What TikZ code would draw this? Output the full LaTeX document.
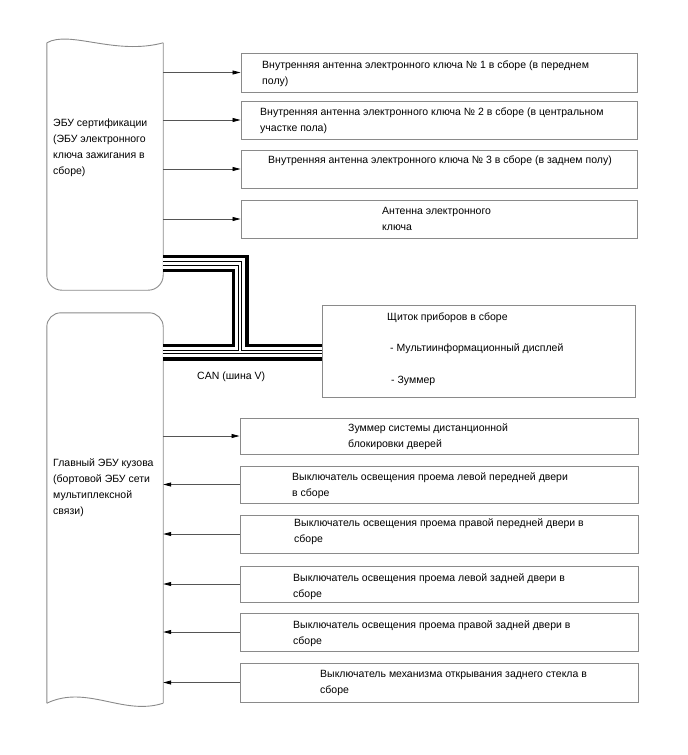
\documentclass[tikz,border=0pt]{standalone}
\usepackage{fontspec}
\setmainfont{Liberation Sans}
\usetikzlibrary{arrows.meta}
\definecolor{Frame}{HTML}{8A8A8A}
\definecolor{Wire}{HTML}{555555}
\newcommand{\boxfont}{\fontsize{10.5}{15.5}\selectfont}
\newcommand{\ecufont}{\fontsize{10.5}{16}\selectfont}
\tikzset{
  unit/.style={draw=Frame, line width=0.9pt, inner sep=0pt},
  ecubody/.style={inner sep=0pt},
  eculine/.style={draw=Frame, line width=0.9pt},
  txt/.style={font=\boxfont, align=left, inner sep=0pt, anchor=base west},
  sig/.style={draw=Wire, line width=0.8pt, -{Triangle[length=8pt,width=4pt,black]}},
  canbus/.style={line join=miter, line cap=butt},
}

\begin{document}
\begin{tikzpicture}[x=1pt,y=-1pt]
  \useasboundingbox (0,0) rectangle (688,755);

  %% ECU A (certification)
  \node[ecubody, minimum width=116, minimum height=247] (ecuA) at (105,166.5) {};
  \draw[eculine, rounded corners=15pt] (ecuA.north east) -- (ecuA.south east) -- (ecuA.south west) -- (ecuA.north west);
  \draw[eculine] (ecuA.north west) .. controls +(23,-13) and +(-48,13) .. (ecuA.north east);
  \node[txt, font=\ecufont] (ecuAtxt) at (53,174.7) {ЭБУ сертификации\\(ЭБУ электронного\\ключа зажигания в\\сборе)};

  %% ECU B (main body)
  \node[ecubody, minimum width=116, minimum height=390] (ecuB) at (105,508) {};
  \draw[eculine, rounded corners=14pt] (ecuB.south west) -- (ecuB.north west) -- (ecuB.north east) -- (ecuB.south east);
  \draw[eculine] (ecuB.south west) .. controls +(40,-19) and +(-40,13) .. (ecuB.south east);
  \node[txt, font=\ecufont] (ecuBtxt) at (53,514.7) {Главный ЭБУ кузова\\(бортовой ЭБУ сети\\мультиплексной\\связи)};

  %% antennas
  \node[unit, minimum width=396, minimum height=39] (ant1) at (439,72.5) {};
  \node[txt] (ant1txt) at (262,84.2) {Внутренняя антенна электронного ключа № 1 в сборе (в переднем\\полу)};
  \node[unit, minimum width=396, minimum height=38] (ant2) at (439,120) {};
  \node[txt] (ant2txt) at (260,131.2) {Внутренняя антенна электронного ключа № 2 в сборе (в центральном\\участке пола)};
  \node[unit, minimum width=396, minimum height=38] (ant3) at (439,169) {};
  \node[txt] (ant3txt) at (268,163.7) {Внутренняя антенна электронного ключа № 3 в сборе (в заднем полу)};
  \node[unit, minimum width=396, minimum height=38] (ant4) at (439,219) {};
  \node[txt] (ant4txt) at (382,230.2) {Антенна электронного\\ключа};

  \draw[sig] (ecuA.east |- ant1.west) -- (ant1.west);
  \draw[sig] (ecuA.east |- ant2.west) -- (ant2.west);
  \draw[sig] (ecuA.east |- ant3.west) -- (ant3.west);
  \draw[sig] (ecuA.east |- ant4.west) -- (ant4.west);

  %% combination meter
  \node[unit, minimum width=313, minimum height=92] (meter) at (478.5,351) {};
  \node[txt] (metertxt) at (387,320.7) {Щиток приборов в сборе};
  \node[txt] (meterdisp) at (390,351.7) {- Мультиинформационный дисплей};
  \node[txt] (meterbuzz) at (391,383.7) {- Зуммер};

  %% CAN (V bus)
  \coordinate (canA) at (ecuA.east |- 0,263.5);
  \coordinate (canbend) at (240,263.5);
  \coordinate (cantee) at (240,352);
  \coordinate (canB) at (ecuB.east |- cantee);
  \draw[canbus, line width=17pt, black] (canA) -- (canbend) -- (cantee);
  \draw[canbus, line width=17pt, black] (canB) -- (meter.west |- cantee);
  \draw[canbus, line width=10.5pt, white] (canA) -- (canbend) -- (cantee);
  \draw[canbus, line width=10.5pt, white] (canB) -- (meter.west |- cantee);
  \draw[canbus, line width=4.5pt, black] (canA) -- (canbend) -- (cantee);
  \draw[canbus, line width=4.5pt, black] (canB) -- (meter.west |- cantee);
  \draw[canbus, line width=2.5pt, white] (canA) -- (canbend) -- (cantee);
  \draw[canbus, line width=2.5pt, white] (canB) -- (meter.west |- cantee);
  \node[txt] (canlbl) at (197,379.7) {CAN (шина V)};

  %% body ECU loads and switches
  \node[unit, minimum width=398, minimum height=36] (buzz) at (439,436) {};
  \node[txt] (buzztxt) at (348,447.2) {Зуммер системы дистанционной\\блокировки дверей};
  \node[unit, minimum width=398, minimum height=37] (swFL) at (439,484.5) {};
  \node[txt] (swFLtxt) at (292,496.2) {Выключатель освещения проема левой передней двери\\в сборе};
  \node[unit, minimum width=398, minimum height=38] (swFR) at (439,534) {};
  \node[txt] (swFRtxt) at (294,542.2) {Выключатель освещения проема правой передней двери в\\сборе};
  \node[unit, minimum width=398, minimum height=36] (swRL) at (439,584) {};
  \node[txt] (swRLtxt) at (293,597.2) {Выключатель освещения проема левой задней двери в\\сборе};
  \node[unit, minimum width=398, minimum height=38] (swRR) at (439,632) {};
  \node[txt] (swRRtxt) at (293,644.2) {Выключатель освещения проема правой задней двери в\\сборе};
  \node[unit, minimum width=398, minimum height=39] (swGl) at (439,682.5) {};
  \node[txt] (swGltxt) at (320,693.2) {Выключатель механизма открывания заднего стекла в\\сборе};

  \draw[sig] (ecuB.east |- buzz.west) -- (buzz.west);
  \draw[sig] (swFL.west) -- (ecuB.east |- swFL.west);
  \draw[sig] (swFR.west) -- (ecuB.east |- swFR.west);
  \draw[sig] (swRL.west) -- (ecuB.east |- swRL.west);
  \draw[sig] (swRR.west) -- (ecuB.east |- swRR.west);
  \draw[sig] (swGl.west) -- (ecuB.east |- swGl.west);
\end{tikzpicture}
\end{document}
